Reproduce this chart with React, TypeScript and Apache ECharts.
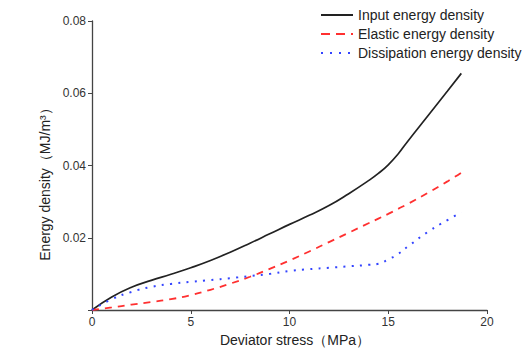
import React, { useEffect, useRef } from "react";
import * as echarts from "echarts";

const stress = [0, 1, 2, 3, 4, 5, 6, 7, 8, 9, 10, 11, 12, 13, 14, 14.5, 15, 15.5, 16, 17, 18, 18.7];
const inputDensity = [0, 0.0036, 0.0063, 0.0082, 0.0099, 0.0117, 0.0137, 0.016, 0.0185, 0.0211, 0.0237, 0.0262, 0.0289, 0.0322, 0.0358, 0.0378, 0.0402, 0.0432, 0.0468, 0.0537, 0.0606, 0.0655];
const elasticDensity = [0, 0.0007, 0.0015, 0.0022, 0.003, 0.0041, 0.0056, 0.0073, 0.0092, 0.0114, 0.0137, 0.0162, 0.0188, 0.0214, 0.024, 0.0253, 0.0266, 0.028, 0.0294, 0.0324, 0.0356, 0.038];
const dissipationDensity = [0, 0.003, 0.005, 0.0064, 0.0072, 0.0078, 0.0083, 0.0088, 0.0094, 0.01, 0.0108, 0.0113, 0.0117, 0.0121, 0.0125, 0.0128, 0.014, 0.0155, 0.0176, 0.0216, 0.0249, 0.027];
const seriesNames = ["Input energy density", "Elastic energy density", "Dissipation energy density"];
const xAxisName = "Deviator stress（MPa）";
const yAxisName = "Energy density（MJ/m³）";

const pairs = (ys: number[]) => stress.map((x, i) => [x, ys[i]]);

export default function App() {
  const ref = useRef<HTMLDivElement>(null);
  useEffect(() => {
    if (!ref.current) return;
    const chart = echarts.init(ref.current, undefined, { renderer: "svg" });
    const font = "Liberation Sans, Arial, sans-serif";
    chart.setOption({
      animation: false,
      backgroundColor: "#ffffff",
      grid: { left: 92, right: 39, top: 21, bottom: 42 },
      legend: {
        orient: "vertical",
        left: 315,
        top: 3,
        itemWidth: 32,
        itemHeight: 14,
        itemGap: 5,
        itemStyle: { opacity: 0 },
        textStyle: { fontFamily: font, fontSize: 14, color: "#222" },
        data: [
          { name: seriesNames[0] },
          { name: seriesNames[1], lineStyle: { type: [9, 6] } },
          { name: seriesNames[2], lineStyle: { type: [2, 7] } },
        ],
      },
      xAxis: {
        type: "value",
        min: 0,
        max: 20,
        interval: 5,
        splitLine: { show: false },
        axisLine: { lineStyle: { color: "#444", width: 1.3 } },
        axisTick: { length: 4, lineStyle: { color: "#444" } },
        axisLabel: { fontFamily: font, fontSize: 12, color: "#333", margin: 6 },
      },
      yAxis: {
        type: "value",
        min: 0,
        max: 0.08,
        interval: 0.02,
        splitLine: { show: false },
        axisLine: { show: true, lineStyle: { color: "#444", width: 1.3 } },
        axisTick: { show: true, length: 4, lineStyle: { color: "#444" } },
        axisLabel: {
          fontFamily: font,
          fontSize: 12,
          color: "#333",
          margin: 6,
          formatter: (v: number) => (v === 0 ? "" : v.toFixed(2)),
        },
      },
      graphic: [
        {
          type: "text",
          x: 295,
          y: 340,
          style: {
            text: xAxisName,
            fontFamily: font,
            fontSize: 14,
            fill: "#222",
            align: "center",
            verticalAlign: "middle",
          },
        },
        {
          type: "text",
          x: 45,
          y: 181,
          rotation: Math.PI / 2,
          style: {
            text: yAxisName,
            fontFamily: font,
            fontSize: 14,
            fill: "#222",
            align: "center",
            verticalAlign: "middle",
          },
        },
      ],
      series: [
        {
          name: seriesNames[0],
          type: "line",
          smooth: true,
          symbol: "none",
          data: pairs(inputDensity),
          lineStyle: { color: "#222", width: 1.7 },
          itemStyle: { color: "#222" },
        },
        {
          name: seriesNames[1],
          type: "line",
          smooth: true,
          symbol: "none",
          data: pairs(elasticDensity),
          lineStyle: { color: "#ff3030", width: 1.8, type: [7, 6] },
          itemStyle: { color: "#ff3030" },
        },
        {
          name: seriesNames[2],
          type: "line",
          smooth: true,
          symbol: "none",
          data: pairs(dissipationDensity),
          lineStyle: { color: "#3344ff", width: 2, type: [2, 6.3] },
          itemStyle: { color: "#3344ff" },
        },
      ],
    });
    return () => chart.dispose();
  }, []);
  return (
    <div
      ref={ref}
      style={{ position: "fixed", left: 0, top: 0, width: 526, height: 352 }}
    />
  );
}
